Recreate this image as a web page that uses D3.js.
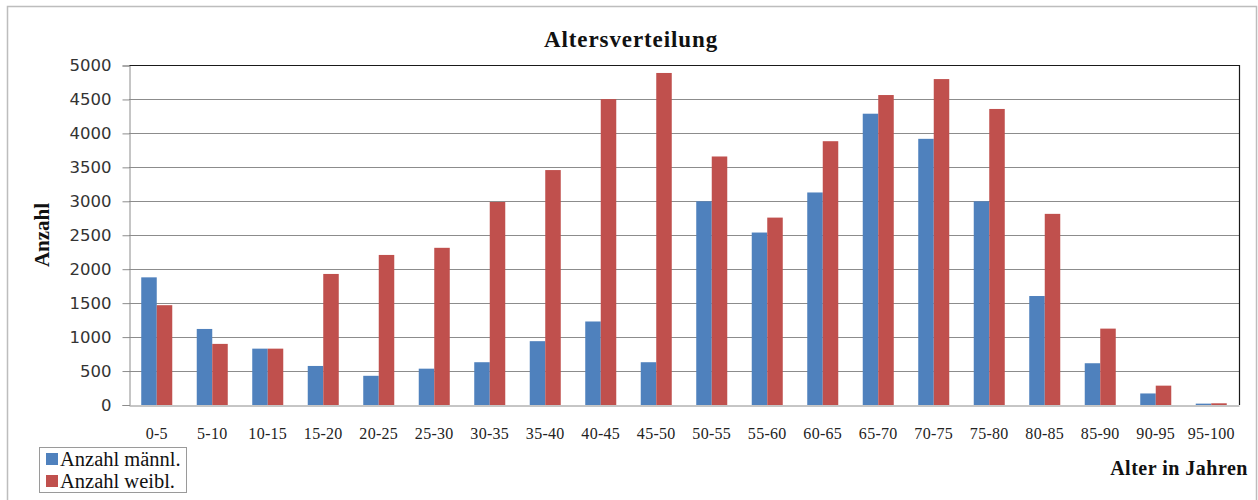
<!DOCTYPE html>
<html>
<head>
<meta charset="utf-8">
<script src="https://cdn.jsdelivr.net/npm/d3@7"></script>
<style>
  html, body { margin: 0; padding: 0; background: #fff; }
  svg { display: block; }
</style>
</head>
<body>
<svg id="chart" width="1258" height="500"></svg>
<script>
// Altersgruppen (5-Jahres-Schritte)
const categories = ["0-5","5-10","10-15","15-20","20-25","25-30","30-35","35-40","40-45","45-50",
                    "50-55","55-60","60-65","65-70","70-75","75-80","80-85","85-90","90-95","95-100"];
// Anzahl Männer je Altersgruppe
const maleValues = [1880, 1120, 830, 575, 430, 535, 630, 940, 1230, 630,
                    3000, 2540, 3130, 4290, 3920, 3000, 1605, 615, 170, 20];
// Anzahl Frauen je Altersgruppe
const femaleValues = [1470, 900, 830, 1930, 2210, 2315, 2990, 3460, 4505, 4890,
                      3660, 2760, 3885, 4565, 4800, 4360, 2815, 1125, 285, 25];
const seriesNames = ["Anzahl männl.", "Anzahl weibl."];
const yTicks = [0, 500, 1000, 1500, 2000, 2500, 3000, 3500, 4000, 4500, 5000];

const colors = ["#4f81bd", "#c0504d"];
const svg = d3.select("#chart");

const plot = { left: 129, right: 1239, top: 65.5, bottom: 405 };

// Äußerer Rahmen
svg.append("rect")
  .attr("x", 7.5).attr("y", 6.5).attr("width", 1249).attr("height", 500)
  .attr("fill", "#fff").attr("stroke", "#bdbdbd").attr("stroke-width", 1.5);

const x0 = d3.scaleBand().domain(categories).range([plot.left, plot.right]).padding(0);
const x1 = d3.scaleBand().domain([0, 1]).range([0, x0.bandwidth()]).paddingInner(0).paddingOuter(0.79);
const y = d3.scaleLinear().domain([0, 5000]).range([plot.bottom, plot.top]);

// Gitterlinien
svg.append("g")
  .selectAll("line").data(yTicks.filter(d => d > 0 && d < 5000)).join("line")
  .attr("x1", plot.left).attr("x2", plot.right)
  .attr("y1", d => Math.round(y(d)) + 0.5).attr("y2", d => Math.round(y(d)) + 0.5)
  .attr("stroke", "#8c8c8c").attr("stroke-width", 1);

// Balken
const groups = svg.append("g").selectAll("g").data(categories).join("g")
  .attr("transform", d => `translate(${x0(d)},0)`);
groups.selectAll("rect")
  .data((d, i) => [maleValues[i], femaleValues[i]])
  .join("rect")
  .attr("x", (d, j) => x1(j))
  .attr("width", x1.bandwidth())
  .attr("y", d => y(d))
  .attr("height", d => y(0) - y(d))
  .attr("fill", (d, j) => colors[j]);

// Rahmen der Zeichenfläche (oben und rechts)
svg.append("path")
  .attr("d", `M${plot.left},${plot.top}H${plot.right + 0.5}V${plot.bottom}`)
  .attr("fill", "none").attr("stroke", "#1a1a1a").attr("stroke-width", 1.2);

// Y-Achse
const yAxis = svg.append("g")
  .attr("transform", `translate(${plot.left + 0.5},0)`)
  .call(d3.axisLeft(y).tickValues(yTicks).tickSize(7).tickPadding(11).tickFormat(d3.format("d")));
yAxis.select(".domain").attr("stroke", "#8c8c8c");
yAxis.selectAll(".tick line").attr("stroke", "#8c8c8c");
yAxis.selectAll(".tick text")
  .attr("font-family", "'DejaVu Sans', sans-serif").attr("font-size", 16.5)
  .attr("fill", "#333");

// X-Achse
const xAxis = svg.append("g")
  .attr("transform", `translate(0,${plot.bottom + 0.5})`)
  .call(d3.axisBottom(x0).tickSize(0).tickPadding(22));
xAxis.select(".domain").attr("stroke", "#8c8c8c");
xAxis.selectAll(".tick text")
  .attr("font-family", "'Liberation Serif', 'Times New Roman', serif").attr("font-size", 16)
  .attr("letter-spacing", 0.3)
  .attr("fill", "#222");

// Titel
svg.append("text")
  .attr("x", 631).attr("y", 47)
  .attr("text-anchor", "middle")
  .attr("font-family", "'Liberation Serif', 'Times New Roman', serif")
  .attr("font-weight", "bold").attr("font-size", 23).attr("letter-spacing", 0.9)
  .attr("fill", "#111")
  .text("Altersverteilung");

// Achsentitel
svg.append("text")
  .attr("transform", "translate(49,235) rotate(-90)")
  .attr("text-anchor", "middle")
  .attr("font-family", "'Liberation Serif', 'Times New Roman', serif")
  .attr("font-weight", "bold").attr("font-size", 21)
  .attr("fill", "#111")
  .text("Anzahl");

svg.append("text")
  .attr("x", 1248).attr("y", 475)
  .attr("text-anchor", "end")
  .attr("font-family", "'Liberation Serif', 'Times New Roman', serif")
  .attr("font-weight", "bold").attr("font-size", 20).attr("letter-spacing", 0.5)
  .attr("fill", "#111")
  .text("Alter in Jahren");

// Legende
const legend = svg.append("g");
legend.append("rect")
  .attr("x", 39.5).attr("y", 447.5).attr("width", 147).attr("height", 45)
  .attr("fill", "#fff").attr("stroke", "#9a9a9a");
seriesNames.forEach((name, i) => {
  legend.append("rect")
    .attr("x", 46).attr("y", 453 + i * 22).attr("width", 12).attr("height", 12)
    .attr("fill", colors[i]);
  legend.append("text")
    .attr("x", 60).attr("y", 466 + i * 22)
    .attr("font-family", "'Liberation Serif', 'Times New Roman', serif")
    .attr("font-size", 20.5).attr("fill", "#111")
    .text(name);
});
</script>
</body>
</html>
